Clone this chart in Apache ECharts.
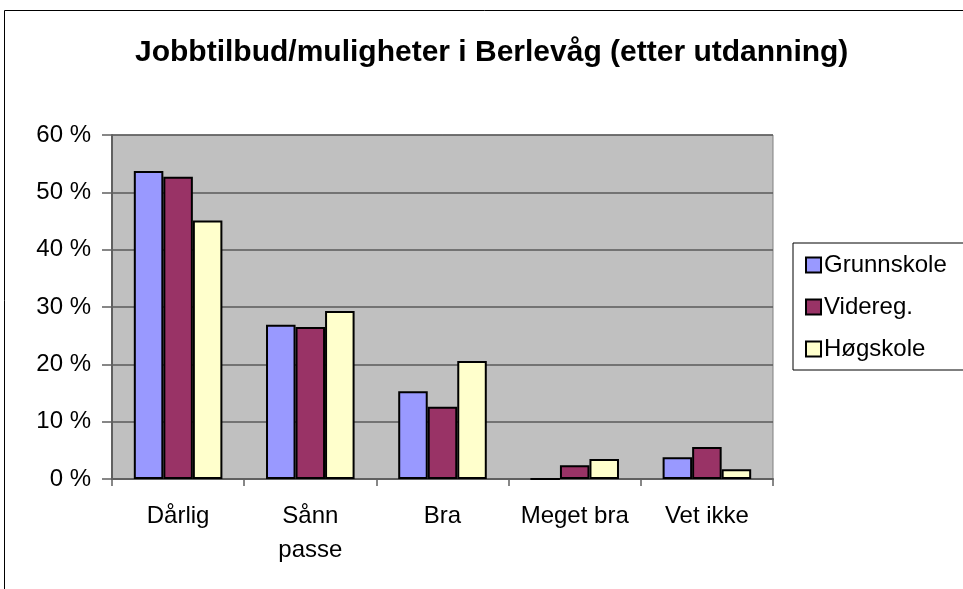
<!DOCTYPE html>
<html><head><meta charset="utf-8">
<script src="https://cdn.jsdelivr.net/npm/echarts@6/dist/echarts.min.js"></script>
<style>html,body{margin:0;padding:0;background:#fff}#c{width:963px;height:589px}</style>
</head><body><div id="c"></div>
<script>
const categories = ['Dårlig', 'Sånn\npasse', 'Bra', 'Meget bra', 'Vet ikke'];
const grunnskole = [53.7, 26.9, 15.3, 0, 3.8];
const videreg = [52.7, 26.5, 12.6, 2.4, 5.6];
const hogskole = [45.1, 29.3, 20.6, 3.5, 1.7];
const seriesNames = ['Grunnskole', 'Videreg.', 'Høgskole'];
const colors = ['#9999FF', '#993366', '#FFFFCC'];
const titleText = 'Jobbtilbud/muligheter i Berlevåg (etter utdanning)';

const FONT = 'Liberation Sans, Arial, sans-serif';
const chart = echarts.init(document.getElementById('c'), null, {renderer: 'canvas'});
const mk = (name, data, i) => ({
  name, type: 'bar', data,
  barGap: '0%', barCategoryGap: '33%',
  itemStyle: {color: colors[i], borderColor: '#000', borderWidth: 2},
  emphasis: {disabled: true}
});
chart.setOption({
  animation: false,
  backgroundColor: '#fff',
  textStyle: {fontFamily: FONT},
  graphic: [{
    type: 'rect', shape: {x: 4.5, y: 10.5, width: 1000, height: 700},
    style: {fill: 'none', stroke: '#000', lineWidth: 1}, z: -10
  }],
  title: {
    text: titleText, left: 130, top: 33, padding: 5,
    textStyle: {fontFamily: FONT, fontSize: 30, fontWeight: 'bold', color: '#000'}
  },
  legend: {
    orient: 'vertical', left: 793, top: 243,
    padding: [10, 40, 9, 12],
    borderColor: '#000', borderWidth: 1, backgroundColor: '#fff',
    icon: 'rect',
    itemWidth: 15, itemHeight: 15, itemGap: 18,
    textStyle: {fontFamily: FONT, fontSize: 24, color: '#000', lineHeight: 24, padding: [0, 0, 0, -2]},
    data: seriesNames
  },
  grid: {
    left: 112, top: 135, width: 661, height: 344,
    show: true, backgroundColor: '#C0C0C0', borderColor: '#808080', borderWidth: 1
  },
  xAxis: {
    type: 'category', data: categories,
    axisLine: {lineStyle: {color: '#606060', width: 2}},
    axisTick: {show: true, length: 7, lineStyle: {color: '#606060', width: 1.5}},
    axisLabel: {fontFamily: FONT, fontSize: 24, color: '#000', margin: 20, lineHeight: 34, interval: 0}
  },
  yAxis: {
    type: 'value', min: 0, max: 60, interval: 10,
    axisLine: {show: true, lineStyle: {color: '#606060', width: 2}},
    axisTick: {show: true, length: 10, lineStyle: {color: '#606060', width: 1.5}},
    splitLine: {show: true, lineStyle: {color: '#5a5a5a', width: 1.5}},
    axisLabel: {fontFamily: FONT, fontSize: 24, color: '#000', margin: 21, formatter: '{value} %'}
  },
  series: [mk(seriesNames[0], grunnskole, 0), mk(seriesNames[1], videreg, 1), mk(seriesNames[2], hogskole, 2)]
});
</script></body></html>
